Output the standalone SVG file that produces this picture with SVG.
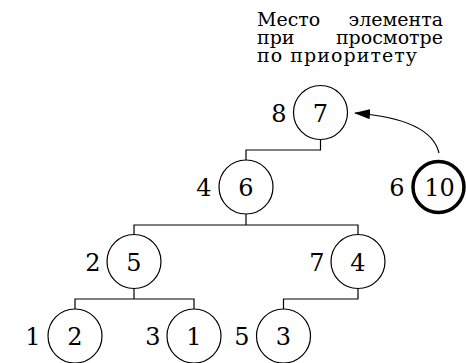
<svg xmlns="http://www.w3.org/2000/svg" width="466" height="363" viewBox="0 0 466 363">
  <defs>
    <marker id="arrowhead" markerWidth="16" markerHeight="10" refX="15" refY="5" orient="auto" markerUnits="userSpaceOnUse">
      <path d="M0,0 L16,5 L0,10 Z" fill="#000"/>
    </marker>
    <style>
      .node { fill: #fff; stroke: #000; stroke-width: 1.2; }
      .bold { stroke-width: 3.5; }
      .num { font-family: "DejaVu Serif", serif; font-size: 24px; text-anchor: middle; fill: #000; }
      .note { font-family: "DejaVu Serif", serif; font-size: 19px; fill: #000; }
      .edge { fill: none; stroke: #000; stroke-width: 1.2; }
    </style>
  </defs>

  <rect width="466" height="363" fill="#fff"/>

  <!-- caption, justified to a fixed column -->
  <g id="caption" class="note">
    <text y="26"><tspan x="257">Место</tspan><tspan x="443" text-anchor="end">элемента</tspan></text>
    <text y="44"><tspan x="257">при</tspan><tspan x="443" text-anchor="end">просмотре</tspan></text>
    <text x="257" y="62" textLength="160" lengthAdjust="spacing">по приоритету</text>
  </g>

  <!-- tree connectors -->
  <g id="connectors">
    <path class="edge" d="M320.5,140 V150 H246 V160"/>
    <path class="edge" d="M134,235 V225 H358 V235 M246,214 V225"/>
    <path class="edge" d="M75,309 V299 H194 V309 M134,288 V299"/>
    <path class="edge" d="M358,288 V299 H283.5 V309"/>
    <path class="edge" d="M439,153 Q431,119 355,113" marker-end="url(#arrowhead)"/>
  </g>

  <g id="n7">
    <circle class="node" cx="320.5" cy="112.5" r="27"/>
    <text class="num" x="320.5" y="121.5">7</text>
    <text class="num" x="279" y="121.5">8</text>
  </g>
  <g id="n6">
    <circle class="node" cx="246" cy="187" r="27"/>
    <text class="num" x="246" y="196">6</text>
    <text class="num" x="204" y="196">4</text>
  </g>
  <g id="n10">
    <circle class="node bold" cx="438.5" cy="187" r="25.5"/>
    <text class="num" x="439.5" y="196">10</text>
    <text class="num" x="397" y="196">6</text>
  </g>
  <g id="n5">
    <circle class="node" cx="134" cy="261.5" r="27"/>
    <text class="num" x="134" y="270.5">5</text>
    <text class="num" x="93" y="270.5">2</text>
  </g>
  <g id="n4">
    <circle class="node" cx="358" cy="261.5" r="27"/>
    <text class="num" x="358" y="270.5">4</text>
    <text class="num" x="317" y="270.5">7</text>
  </g>
  <g id="n2">
    <circle class="node" cx="75" cy="336" r="27"/>
    <text class="num" x="75" y="345">2</text>
    <text class="num" x="33" y="345">1</text>
  </g>
  <g id="n1">
    <circle class="node" cx="194" cy="336" r="27"/>
    <text class="num" x="194" y="345">1</text>
    <text class="num" x="153" y="345">3</text>
  </g>
  <g id="n3">
    <circle class="node" cx="283.5" cy="336" r="27"/>
    <text class="num" x="283.5" y="345">3</text>
    <text class="num" x="242" y="345">5</text>
  </g>
</svg>
